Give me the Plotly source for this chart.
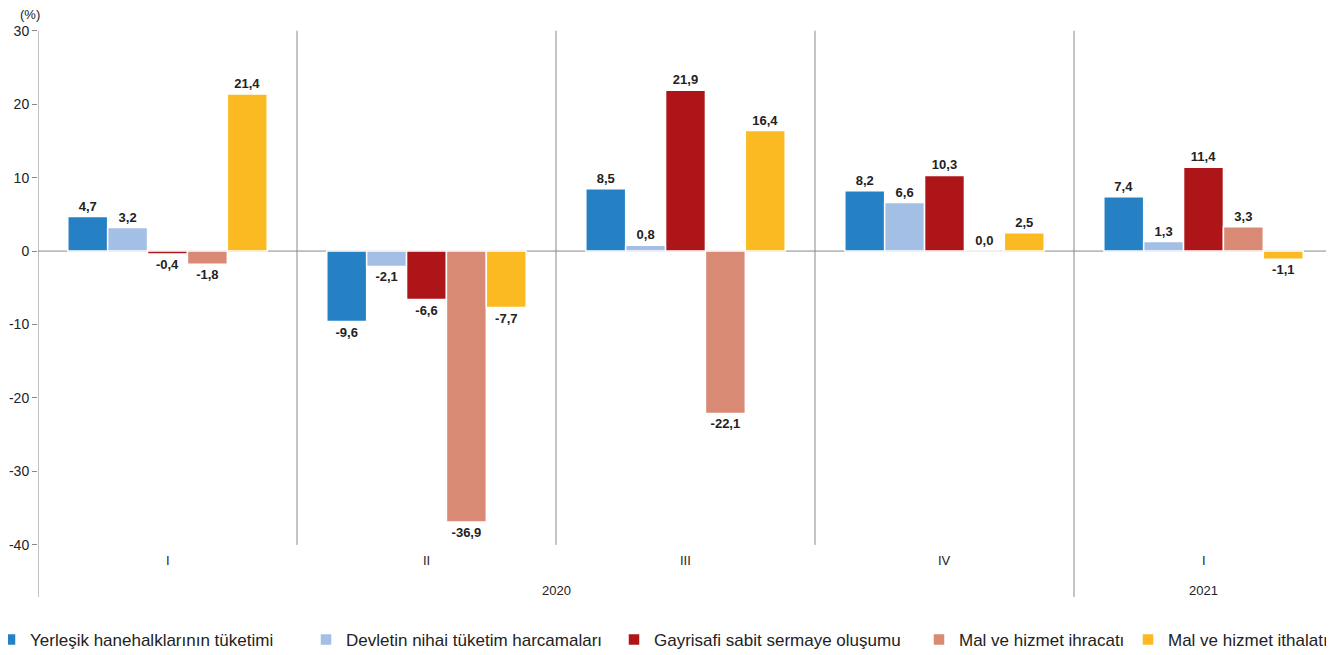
import plotly.graph_objects as go

quarters = ["I", "II", "III", "IV", "I"]
years = ["2020", "2021"]
series_names = [
    "Yerleşik hanehalklarının tüketimi",
    "Devletin nihai tüketim harcamaları",
    "Gayrisafi sabit sermaye oluşumu",
    "Mal ve hizmet ihracatı",
    "Mal ve hizmet ithalatı",
]
hanehalki = [4.7, -9.6, 8.5, 8.2, 7.4]
devlet = [3.2, -2.1, 0.8, 6.6, 1.3]
gsso = [-0.4, -6.6, 21.9, 10.3, 11.4]
ihracat = [-1.8, -36.9, -22.1, 0.0, 3.3]
ithalat = [21.4, -7.7, 16.4, 2.5, -1.1]
y_ticks = [-40, -30, -20, -10, 0, 10, 20, 30]

colors = ["#2680C4", "#A3BFE6", "#AE1518", "#D98A74", "#FBBA21"]
series = [hanehalki, devlet, gsso, ihracat, ithalat]

# page body has an 8px margin: figure is sized/offset to compensate
W, H = 1326, 647
ML, MR, MT, MB = 30, 1, 22, 58
PW = W - ML - MR
legend_left_px = [-18, 298, 606, 911, 1120]
legend_ids = ["legend", "legend2", "legend3", "legend4", "legend5"]

xpos = list(range(len(quarters)))
fig = go.Figure()
for name, vals, col, lid in zip(series_names, series, colors, legend_ids):
    fig.add_trace(go.Bar(
        x=xpos, y=vals, name=name, legend=lid,
        marker=dict(color=col, line=dict(color="white", width=1.5)),
        text=[f"{v:.1f}".replace(".", ",") for v in vals],
        textposition="outside", cliponaxis=False,
        textfont=dict(family="Liberation Sans", size=13, color="#222222", weight="bold"),
    ))

ymin, ymax = -47.1, 30.1
layout_legends = {}
for lid, lx in zip(legend_ids, legend_left_px):
    layout_legends[lid] = dict(
        orientation="h", x=(lx - ML) / PW, xref="paper", y=(H - 632) / H, yref="container",
        xanchor="left", yanchor="middle", bgcolor="rgba(0,0,0,0)",
        font=dict(size=17, color="#222222"), itemwidth=30)

fig.update_layout(
    width=W, height=H,
    margin=dict(l=ML, r=MR, t=MT, b=MB, autoexpand=False),
    paper_bgcolor="white", plot_bgcolor="white",
    barmode="group", bargap=0.23, bargroupgap=0,
    font=dict(family="Liberation Sans", size=13, color="#222222"),
    showlegend=True,
    xaxis=dict(range=[-0.5, 4.5], showticklabels=False, showgrid=False,
               zeroline=False, showline=False, ticks="", automargin=False),
    yaxis=dict(range=[ymin, ymax], tickvals=y_ticks,
               ticktext=[str(t) for t in y_ticks], showgrid=False,
               zeroline=False, showline=False, ticks="outside", ticklen=5,
               tickcolor="#888888", tickfont=dict(size=14, color="#222222"),
               automargin=False),
    **layout_legends,
)

line_col = "#888888"
fig.add_shape(type="line", xref="x", yref="y", x0=-0.5, x1=-0.5, y0=ymin, y1=30, line=dict(color=line_col, width=1))
fig.add_shape(type="line", xref="x", yref="y", x0=4.5, x1=4.5, y0=ymin, y1=30, line=dict(color=line_col, width=1))
fig.add_shape(type="line", xref="x", yref="y", x0=-0.5, x1=4.5, y0=0, y1=0, line=dict(color=line_col, width=1), layer="below")
for i in range(1, len(quarters)):
    bottom = ymin if i == 4 else -40
    fig.add_shape(type="line", xref="x", yref="y", x0=i - 0.5, x1=i - 0.5, y0=bottom, y1=30,
                  line=dict(color=line_col, width=1), layer="below")

for i, q in enumerate(quarters):
    fig.add_annotation(x=i, y=-42.1, text=q, showarrow=False, xref="x", yref="y",
                       font=dict(size=13, color="#222222"))
fig.add_annotation(x=1.5, y=-46.2, text=years[0], showarrow=False, xref="x", yref="y",
                   font=dict(size=13, color="#222222"))
fig.add_annotation(x=4, y=-46.2, text=years[1], showarrow=False, xref="x", yref="y",
                   font=dict(size=13, color="#222222"))
fig.add_annotation(x=(30 - 38) / PW, y=1 + (30 - 14) / 567, xref="paper", yref="paper",
                   text="(%)", showarrow=False, xanchor="center", yanchor="middle",
                   font=dict(size=13, color="#222222"))

fig.write_html("out.html")
